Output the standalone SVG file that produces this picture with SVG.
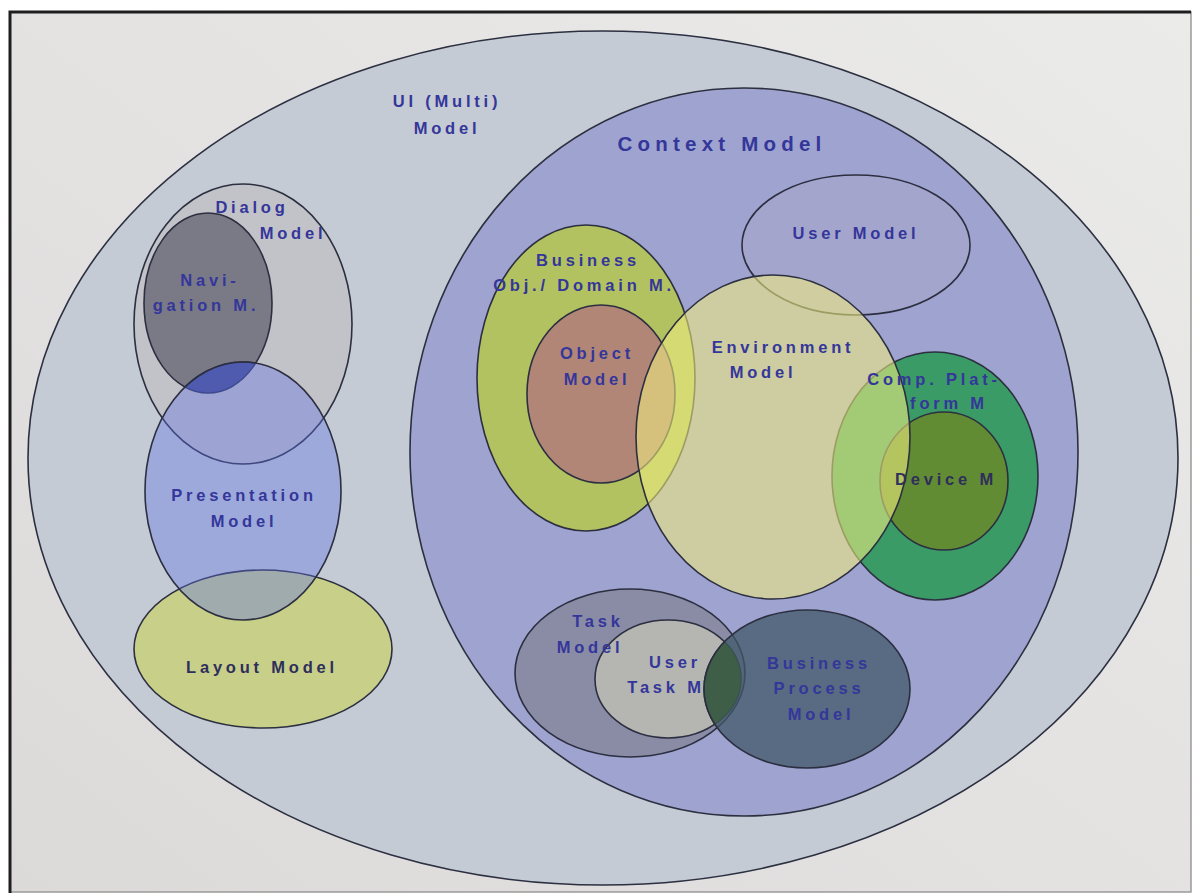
<svg xmlns="http://www.w3.org/2000/svg" width="1193" height="896" viewBox="0 0 1193 896">
<style>
.e{stroke:#2c2f40;stroke-width:1.6}
.t{font-family:"Liberation Sans",Arial,sans-serif;font-weight:bold;font-size:16.5px;letter-spacing:3.8px;fill:#34369a;text-anchor:middle}
.big{font-size:20.5px;letter-spacing:5.2px}
.dk{fill:#2e2f5a}
</style>
<defs>
<clipPath id="cNav"><ellipse cx="208" cy="303" rx="64" ry="90"/></clipPath>
<clipPath id="cUT"><ellipse cx="668" cy="679" rx="73" ry="59"/></clipPath>
<linearGradient id="bg" x1="0" y1="1" x2="1" y2="0">
<stop offset="0" stop-color="#dcd9d9"/><stop offset="1" stop-color="#ebebea"/>
</linearGradient>
</defs>
<rect x="0" y="0" width="1193" height="896" fill="#ffffff"/>
<rect x="10" y="12" width="1181" height="880" fill="url(#bg)" stroke="#9a9a9a" stroke-width="1.5"/>
<path d="M10,893 V12 H1191" fill="none" stroke="#1e1e1e" stroke-width="3"/>
<g id="ui-model"><ellipse class="e" cx="603" cy="458" rx="575" ry="427" fill="#c4cbd4"/></g>
<g id="context-model"><ellipse class="e" cx="744" cy="452" rx="334" ry="364" fill="#9fa3cf"/></g>
<g id="dialog-model"><ellipse class="e" cx="243" cy="324" rx="109" ry="140" fill="#c2c0c4" fill-opacity="0.75"/></g>
<g id="navigation-model"><ellipse class="e" cx="208" cy="303" rx="64" ry="90" fill="#727280" fill-opacity="0.9"/></g>
<g id="layout-model"><ellipse class="e" cx="263" cy="649" rx="129" ry="79" fill="#c8d070" fill-opacity="0.75"/></g>
<g id="presentation-model"><ellipse class="e" cx="243" cy="491" rx="98" ry="129" fill="#6070e8" fill-opacity="0.38"/>
<ellipse cx="243" cy="491" rx="98" ry="129" fill="#4050b0" fill-opacity="0.7" clip-path="url(#cNav)" class="e"/></g>
<g id="user-model"><ellipse class="e" cx="856" cy="245" rx="114" ry="70" fill="#b0a8c8" fill-opacity="0.35"/></g>
<g id="business-object-model"><ellipse class="e" cx="586" cy="378" rx="109" ry="153" fill="#b4c45a" fill-opacity="0.95"/></g>
<g id="object-model"><ellipse class="e" cx="601" cy="394" rx="74" ry="89" fill="#b0807a" fill-opacity="0.9"/></g>
<g id="comp-platform-model"><ellipse class="e" cx="935" cy="476" rx="103" ry="124" fill="#2f9a5a" fill-opacity="0.9"/></g>
<g id="device-model"><ellipse class="e" cx="944" cy="481" rx="64" ry="69" fill="#6a8a2c" fill-opacity="0.85"/></g>
<g id="environment-model"><ellipse class="e" cx="773" cy="437" rx="137" ry="162" fill="#f0ec80" fill-opacity="0.58"/></g>
<g id="task-model"><ellipse class="e" cx="630" cy="673" rx="115" ry="84" fill="#7f8090" fill-opacity="0.65"/></g>
<g id="user-task-model"><ellipse class="e" cx="668" cy="679" rx="73" ry="59" fill="#c8c8b8" fill-opacity="0.7"/></g>
<g id="business-process-model"><ellipse class="e" cx="807" cy="689" rx="103" ry="79" fill="#405868" fill-opacity="0.75"/>
<ellipse cx="807" cy="689" rx="103" ry="79" fill="#3a5a40" fill-opacity="0.85" clip-path="url(#cUT)" class="e"/></g>
<g id="labels">
<text class="t" x="447" y="107">UI (Multi)</text>
<text class="t" x="447" y="134">Model</text>
<text class="t big" x="722" y="151">Context Model</text>
<text class="t" x="252" y="213">Dialog</text>
<text class="t" x="293" y="239">Model</text>
<text class="t" x="210" y="286">Navi-</text>
<text class="t" x="206" y="311">gation M.</text>
<text class="t" x="244" y="501">Presentation</text>
<text class="t" x="244" y="527">Model</text>
<text class="t dk" x="262" y="673">Layout Model</text>
<text class="t" x="588" y="266">Business</text>
<text class="t" x="584" y="291">Obj./ Domain M.</text>
<text class="t" x="597" y="359">Object</text>
<text class="t" x="597" y="385">Model</text>
<text class="t" x="783" y="353">Environment</text>
<text class="t" x="763" y="378">Model</text>
<text class="t" x="934" y="385">Comp. Plat-</text>
<text class="t" x="949" y="409">form M</text>
<text class="t dk" x="946" y="485">Device M</text>
<text class="t" x="856" y="239">User Model</text>
<text class="t" x="598" y="627">Task</text>
<text class="t" x="590" y="653">Model</text>
<text class="t" x="675" y="668">User</text>
<text class="t" x="666" y="693">Task M</text>
<text class="t" x="819" y="669">Business</text>
<text class="t" x="819" y="694">Process</text>
<text class="t" x="821" y="720">Model</text>
</g>
</svg>
